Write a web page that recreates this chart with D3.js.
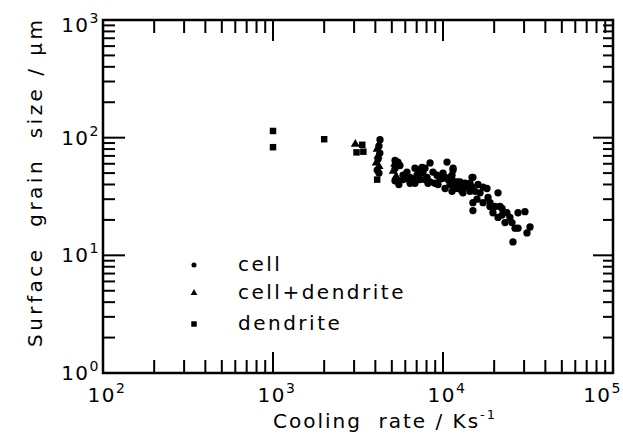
<!DOCTYPE html>
<html><head><meta charset="utf-8">
<script src="https://cdn.jsdelivr.net/npm/d3@7"></script>
<style>
body{margin:0;background:#fff}
svg{display:block}
text{font-family:"DejaVu Sans",sans-serif;fill:#000}
</style>
</head><body>
<svg id="c" width="623" height="439"></svg>
<script>
// ---- data ----
const xTickExp = [2, 3, 4, 5];
const yTickExp = [0, 1, 2, 3];
const xTitle = "Cooling\u00a0\u00a0rate / Ks";
const xTitleSup = "-1";
const yTitle = "Surface\u00a0\u00a0grain\u00a0\u00a0size / \u03bcm";
const legendLabels = ["cell", "cell+dendrite", "dendrite"];

const dendritePoints = [[1000,114],[1000,83],[2000,97],[3350,87],[3100,75],[3400,76],[4100,44]];
const cellDendritePoints = [[3050,88],[4100,80],[4150,70],[4050,61],[4200,57],[5200,60],[5100,52],[5300,47]];
const cellPoints = [
 [4260,96],[4200,85],[4250,74],[4150,66],[4100,53],[4200,50],
 [5220,64],[5430,62],[5580,58],[5230,55],[5430,43],[5220,43],[5500,40],[5820,44],[5820,48],
 [6140,51],[6140,45],[6400,41],[6400,46],[6670,44],[6840,55],[6840,41],[7030,48],[7130,53],[7130,48],
 [7320,44],[7520,56],[7620,50],[7830,55],[7830,44],[8050,46],[8160,41],[8390,61],[8390,42],[8730,51],
 [8970,41],[9220,48],[9350,40],[9600,45],[9860,45],[10000,50],[10280,37],[10280,46],[10560,62],[10700,44],
 [11000,40],[11000,46],[11300,48],[11300,44],[11300,35],[11460,55],[11460,53],[11770,37],[11770,42],
 [12250,42],[12250,37],[12590,42],[12940,35],[13110,40],[13110,34],[13470,41],[13840,38],[14410,41],
 [14410,35],[14820,46],[14820,38],[15000,46],[15000,28],[15000,24],[15420,35],[15850,30],[16070,40],
 [16520,34],[17200,38],[17200,28],[18140,37],[18400,31],[18900,28],[18900,26],[19670,23],[20220,26],
 [21070,34],[21070,21],[21640,26],[22240,22],[22240,25],[23160,19],[23780,23],[24760,21],[25450,19],
 [25800,13],[26530,17],[27610,23],[27610,17],[30350,23.5],[31190,15.5],[32500,17.4]
];

// ---- layout ----
const L = 103, R = 613, T = 20, B = 373;
const svg = d3.select("#c");
const x = d3.scaleLog().domain([1e2, 1e5]).range([L, R]);
const y = d3.scaleLog().domain([1e0, 1e3]).range([B, T]);

const xMajor = xTickExp.map(e => Math.pow(10, e));
const yMajor = yTickExp.map(e => Math.pow(10, e));
const xAll = x.ticks();
const yAll = y.ticks();
const xTickLen = d => xMajor.indexOf(d) >= 0 ? 21 : 13;
const yTickLen = d => yMajor.indexOf(d) >= 0 ? 22 : 12;

// ticks (inward, all four sides)
const gxb = svg.append("g").attr("stroke", "#000").attr("stroke-width", 2);
gxb.selectAll("line").data(xAll).join("line")
  .attr("x1", d => x(d)).attr("x2", d => x(d)).attr("y1", B).attr("y2", d => B - xTickLen(d));
const gxt = svg.append("g").attr("stroke", "#000").attr("stroke-width", 2);
gxt.selectAll("line").data(xAll).join("line")
  .attr("x1", d => x(d)).attr("x2", d => x(d)).attr("y1", T).attr("y2", d => T + xTickLen(d));
const gyl = svg.append("g").attr("stroke", "#000").attr("stroke-width", 2);
gyl.selectAll("line").data(yAll).join("line")
  .attr("y1", d => y(d)).attr("y2", d => y(d)).attr("x1", L).attr("x2", d => L + yTickLen(d));
const gyr = svg.append("g").attr("stroke", "#000").attr("stroke-width", 2);
gyr.selectAll("line").data(yAll).join("line")
  .attr("y1", d => y(d)).attr("y2", d => y(d)).attr("x1", R).attr("x2", d => R - yTickLen(d) + 2);

// frame
svg.append("path")
  .attr("d", `M${L},${T}H${R}V${B}H${L}Z`)
  .style("fill", "none").style("stroke", "#000").style("stroke-width", "2.5px");

// tick labels
function powLabel(sel, exp) {
  sel.append("tspan").text("10");
  sel.append("tspan").attr("font-size", 14).attr("dy", -9).text(exp);
}
xTickExp.forEach((e, i) => {
  const last = i === xTickExp.length - 1;
  const t = svg.append("text")
    .attr("x", last ? 622 : x(Math.pow(10, e)) + 4)
    .attr("y", 402)
    .attr("text-anchor", last ? "end" : "middle")
    .attr("font-size", 20).attr("letter-spacing", 1.5);
  powLabel(t, e);
});
yTickExp.forEach(e => {
  const yy = Math.max(y(Math.pow(10, e)), T + 5);
  const t = svg.append("text")
    .attr("x", 100)
    .attr("y", yy + 7)
    .attr("text-anchor", "end")
    .attr("font-size", 20).attr("letter-spacing", 1.5);
  powLabel(t, e);
});

// axis titles
const xt = svg.append("text").attr("x", 273).attr("y", 428)
  .attr("font-size", 20).attr("textLength", 222).attr("lengthAdjust", "spacing");
xt.append("tspan").text(xTitle);
xt.append("tspan").attr("font-size", 13).attr("dy", -9).text(xTitleSup);

svg.append("text")
  .attr("transform", `translate(42,${(T + 347) / 2}) rotate(-90)`)
  .attr("text-anchor", "middle")
  .attr("font-size", 20).attr("textLength", 327).attr("lengthAdjust", "spacing")
  .text(yTitle);

// markers
const sym = {
  circle: d3.symbol().type(d3.symbolCircle),
  triangle: d3.symbol().type(d3.symbolTriangle),
  square: d3.symbol().type(d3.symbolSquare)
};
function plot(points, s, size) {
  svg.append("g").selectAll("path").data(points).join("path")
    .attr("transform", d => `translate(${x(d[0])},${y(d[1])})`)
    .attr("d", sym[s].size(size)())
    .attr("fill", "#000");
}
plot(dendritePoints, "square", 42);
plot(cellDendritePoints, "triangle", 36);
plot(cellPoints, "circle", 42);

// legend
const legShapes = ["circle", "triangle", "square"];
const legSizes = [20, 20, 30];
const legY = [265, 293, 324];
legendLabels.forEach((lab, i) => {
  svg.append("path").attr("transform", `translate(194,${legY[i]})`)
    .attr("d", sym[legShapes[i]].size(legSizes[i])()).attr("fill", "#000");
  svg.append("text").attr("x", 238).attr("y", legY[i] + 6)
    .attr("font-size", 20).attr("letter-spacing", 2.5).text(lab);
});
</script>
</body></html>
